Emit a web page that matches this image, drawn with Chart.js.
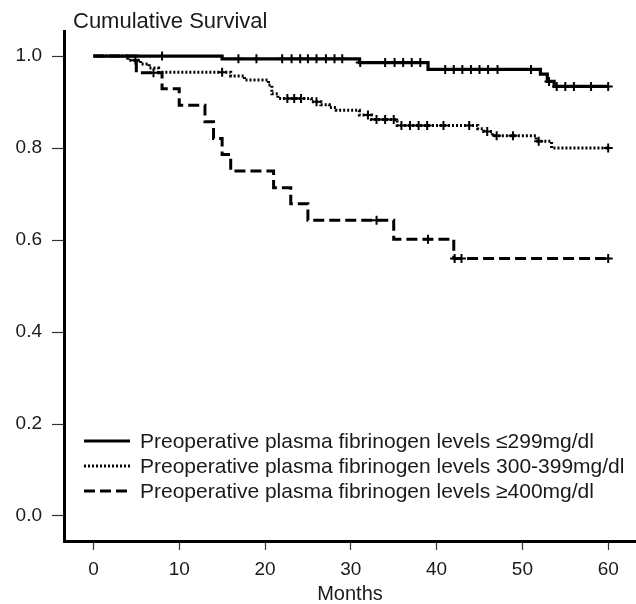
<!DOCTYPE html>
<html>
<head>
<meta charset="utf-8">
<script src="https://cdn.jsdelivr.net/npm/chart.js@4.4.1/dist/chart.umd.min.js"></script>
<style>
  html, body { margin: 0; padding: 0; background: #fff; }
  #wrap { position: relative; width: 636px; height: 604px; }
  #title { position: absolute; left: 73px; top: 10px; font-size: 22px; line-height: 22px; }
  #legend { position: absolute; left: 84px; top: 428px; font-size: 21px; }
  #title, #legend { font-family: "Liberation Sans", Arial, sans-serif; color: #1a1a1a; white-space: nowrap; }
  .row { display: flex; align-items: center; height: 25px; }
  .row span { margin-left: 10px; }
</style>
</head>
<body>
<div id="wrap">
  <canvas id="kmChart"></canvas>
  <div id="title">Cumulative Survival</div>
  <div id="legend"></div>
</div>
<script>
// axis ticks
const xTicks = [0, 10, 20, 30, 40, 50, 60];
const yTicks = [0, 0.2, 0.4, 0.6, 0.8, 1.0];

const seriesLabels = [
  'Preoperative plasma fibrinogen levels ≤299mg/dl',
  'Preoperative plasma fibrinogen levels 300-399mg/dl',
  'Preoperative plasma fibrinogen levels ≥400mg/dl'
];

// ≤299 mg/dl : event times, survival after each event, censored times
const lowTimes = [0, 15, 31, 39, 52.1, 52.9, 53.7];
const lowSurv = [1, 0.994, 0.986, 0.971, 0.961, 0.945, 0.934];
const lowCensor = [8, 16.9, 19, 22, 23.1, 24.1, 25, 26, 27.1, 28.1, 29, 31.1, 34, 35.1, 36.1, 37.1, 38.1,
  41, 42, 43, 44, 45, 46, 47.1, 51, 53.1, 54, 55, 56, 58, 60];

// 300-399 mg/dl
const midTimes = [0, 4, 5.5, 6.5, 7.6, 16, 17.6, 20.4, 20.8, 21.5, 25.4, 26.5, 27.5, 28.3, 31, 32.4, 35.4,
  44.8, 45.5, 46.5, 51.6, 53.4];
const midSurv = [1, 0.991, 0.983, 0.974, 0.965, 0.957, 0.948, 0.937, 0.918, 0.908, 0.901, 0.894, 0.888, 0.882,
  0.872, 0.862, 0.849, 0.842, 0.836, 0.827, 0.815, 0.800];
const midCensor = [4.9, 15, 22.6, 23.4, 24.2, 26, 32, 33, 34, 35, 35.9, 36.9, 37.9, 38.9, 40.8, 43.8,
  45.9, 47, 48.9, 51.9, 60];

// ≥400 mg/dl
const highTimes = [0, 5, 8, 10, 13, 14, 15, 16, 21, 23, 25, 35, 42];
const highSurv = [1, 0.964, 0.929, 0.893, 0.857, 0.821, 0.786, 0.750, 0.714, 0.679, 0.643, 0.602, 0.560];
const highCensor = [7, 33, 39, 42.1, 42.9, 60];

Chart.defaults.font.family = '"Liberation Sans", Arial, sans-serif';
Chart.defaults.color = '#1a1a1a';

// survival level at time t (step function)
function survAt(times, surv, t) {
  let s = surv[0];
  for (let i = 0; i < times.length; i++) {
    if (times[i] <= t) s = surv[i];
  }
  return s;
}

function curvePoints(times, surv, censor) {
  const pts = times.map((t, i) => ({ x: t, y: surv[i] }));
  const end = Math.max(...censor);
  pts.push({ x: end, y: survAt(times, surv, end) });
  return pts;
}

function censorPoints(times, surv, censor) {
  return censor.map(t => ({ x: t, y: survAt(times, surv, t) }));
}

function curve(label, pts, width, dash) {
  return {
    label: label,
    data: pts,
    stepped: true,
    borderColor: '#000',
    borderWidth: width,
    borderDash: dash,
    pointRadius: 0,
    fill: false
  };
}

function marks(pts) {
  return {
    data: pts,
    showLine: false,
    pointStyle: 'cross',
    pointRadius: 4.5,
    pointBorderWidth: 2,
    pointBorderColor: '#000',
    pointBackgroundColor: '#000'
  };
}

// html legend built from the line datasets
const htmlLegend = {
  id: 'htmlLegend',
  afterUpdate(chart) {
    const box = document.getElementById('legend');
    box.innerHTML = '';
    chart.data.datasets.forEach(ds => {
      if (ds.showLine === false) return;
      const row = document.createElement('div');
      row.className = 'row';
      const dash = (ds.borderDash || []).join(' ');
      row.innerHTML = '<svg width="46" height="8"><line x1="0" y1="4" x2="46" y2="4" stroke="#000" stroke-width="' +
        ds.borderWidth + '" stroke-dasharray="' + dash + '"/></svg><span></span>';
      row.querySelector('span').textContent = ds.label;
      box.appendChild(row);
    });
  }
};

const ctx = document.getElementById('kmChart').getContext('2d');
const kmChart = new Chart(ctx, {
  type: 'line',
  data: {
    datasets: [
      curve(seriesLabels[0], curvePoints(lowTimes, lowSurv, lowCensor), 3.2, []),
      curve(seriesLabels[1], curvePoints(midTimes, midSurv, midCensor), 3, [2, 2]),
      curve(seriesLabels[2], curvePoints(highTimes, highSurv, highCensor), 3, [11, 5]),
      marks(censorPoints(lowTimes, lowSurv, lowCensor)),
      marks(censorPoints(midTimes, midSurv, midCensor)),
      marks(censorPoints(highTimes, highSurv, highCensor))
    ]
  },
  options: {
    responsive: true,
    maintainAspectRatio: false,
    animation: false,
    layout: { autoPadding: false, padding: { top: 31, right: 0, bottom: 0, left: 0 } },
    plugins: {
      legend: { display: false },
      tooltip: { enabled: false }
    },
    scales: {
      x: {
        type: 'linear',
        min: -3.43,
        max: 63.24,
        afterBuildTicks: (scale) => { scale.ticks = xTicks.map(v => ({ value: v })); },
        afterFit: (scale) => { scale.height = 63; scale.paddingLeft = 0; scale.paddingRight = 0; },
        ticks: { font: { size: 19 }, padding: 8, maxRotation: 0 },
        grid: { drawOnChartArea: false, drawTicks: true, tickLength: 9, tickWidth: 1.2, tickColor: '#333' },
        border: { display: true, color: '#000', width: 3 },
        title: { display: true, text: 'Months', font: { size: 20, lineHeight: 1 }, padding: { top: 0, bottom: 0 } }
      },
      y: {
        min: -0.0544,
        max: 1.0546,
        afterBuildTicks: (scale) => { scale.ticks = yTicks.map(v => ({ value: v })); },
        afterFit: (scale) => { scale.width = 64; },
        ticks: { font: { size: 19 }, padding: 10, callback: (v) => v.toFixed(1) },
        grid: { drawOnChartArea: false, drawTicks: true, tickLength: 12, tickWidth: 1.2, tickColor: '#333' },
        border: { display: true, color: '#000', width: 3 }
      }
    }
  },
  plugins: [htmlLegend]
});
</script>
</body>
</html>
